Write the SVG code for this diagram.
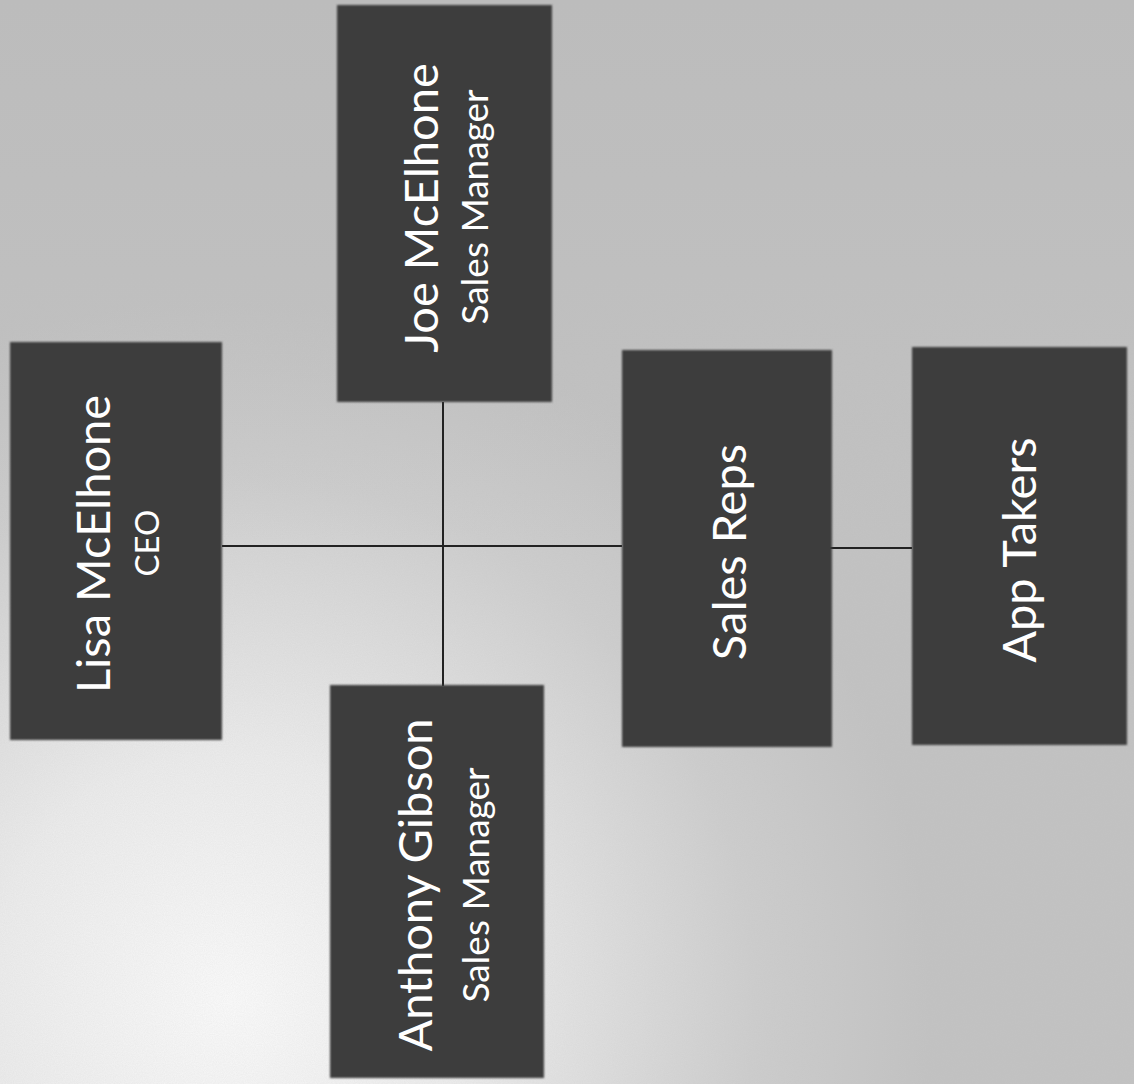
<svg xmlns="http://www.w3.org/2000/svg" width="1134" height="1084" viewBox="0 0 1134 1084">
  <defs>
    <radialGradient id="bgGlow" cx="230" cy="1000" r="700" gradientUnits="userSpaceOnUse">
      <stop offset="0" stop-color="#fbfbfb"/>
      <stop offset="0.35" stop-color="#ececec"/>
      <stop offset="0.75" stop-color="#cdcdcd"/>
      <stop offset="1" stop-color="#c2c2c2"/>
    </radialGradient>
    <linearGradient id="topShade" x1="0" y1="0" x2="0" y2="1">
      <stop offset="0" stop-color="#b8b8b8" stop-opacity="0.6"/>
      <stop offset="0.5" stop-color="#b8b8b8" stop-opacity="0"/>
    </linearGradient>
    <filter id="noise" x="0" y="0" width="100%" height="100%">
      <feTurbulence type="fractalNoise" baseFrequency="0.9" numOctaves="2" seed="3" result="t"/>
      <feColorMatrix type="matrix" values="0 0 0 0 0.5  0 0 0 0 0.5  0 0 0 0 0.5  0 0 0 0.18 0" in="t"/>
    </filter>
    <filter id="soft" x="-5%" y="-5%" width="110%" height="110%">
      <feGaussianBlur stdDeviation="1.2"/>
    </filter>
  </defs>
  <style>
    .box { fill: #3c3c3c; filter: url(#soft); }
    .name { font-family: Lato, "Open Sans", "Liberation Sans", sans-serif; font-size: 47px; fill: #ffffff; text-anchor: middle; }
    .role { font-family: Lato, "Open Sans", "Liberation Sans", sans-serif; font-size: 33px; fill: #ffffff; text-anchor: middle; }
    .role.wide { font-size: 37px; }
    .conn { stroke: #222222; stroke-width: 2; fill: none; }
  </style>

  <rect x="0" y="0" width="1134" height="1084" fill="url(#bgGlow)"/>
  <rect x="0" y="0" width="1134" height="1084" fill="url(#topShade)"/>
  <rect x="0" y="0" width="1134" height="1084" filter="url(#noise)"/>

  <g id="connectors">
    <line class="conn" x1="222" y1="546" x2="622" y2="546"/>
    <line class="conn" x1="443" y1="402" x2="443" y2="686"/>
    <line class="conn" x1="830" y1="548" x2="912" y2="548"/>
  </g>

  <g id="lisa">
    <rect class="box" x="10" y="342" width="212" height="398"/>
    <text class="name" x="110" y="544" transform="rotate(-90 110 544)">Lisa McElhone</text>
    <text class="role" x="159" y="543" transform="rotate(-90 159 543)">CEO</text>
  </g>

  <g id="joe">
    <rect class="box" x="337" y="5" width="215" height="397"/>
    <text class="name" x="438" y="208" transform="rotate(-90 438 208)">Joe McElhone</text>
    <text class="role wide" x="488" y="207" transform="rotate(-90 488 207)">Sales Manager</text>
  </g>

  <g id="anthony">
    <rect class="box" x="330" y="685" width="214" height="393"/>
    <text class="name" x="432" y="885" transform="rotate(-90 432 885)">Anthony Gibson</text>
    <text class="role wide" x="489" y="885" transform="rotate(-90 489 885)">Sales Manager</text>
  </g>

  <g id="sales-reps">
    <rect class="box" x="622" y="350" width="210" height="397"/>
    <text class="name" x="746" y="552" transform="rotate(-90 746 552)">Sales Reps</text>
  </g>

  <g id="app-takers">
    <rect class="box" x="912" y="347" width="215" height="398"/>
    <text class="name" x="1036" y="550" transform="rotate(-90 1036 550)">App Takers</text>
  </g>
</svg>
